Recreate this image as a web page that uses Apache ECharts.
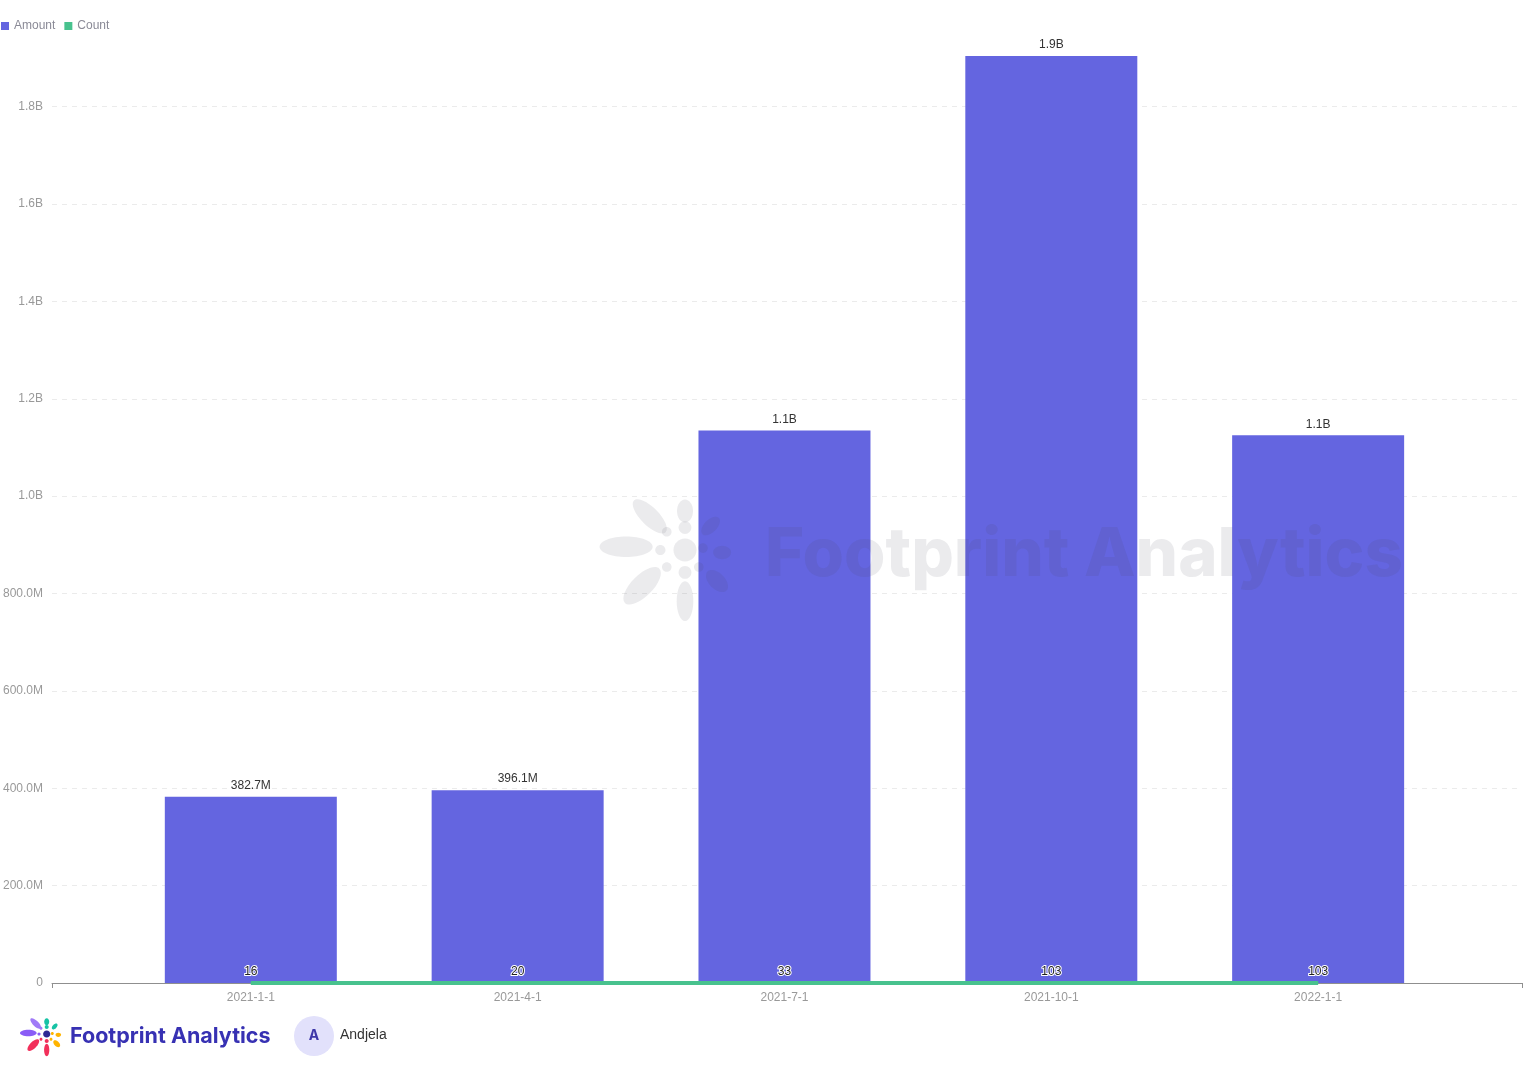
<!DOCTYPE html>
<html><head><meta charset="utf-8">
<script src="https://cdn.jsdelivr.net/npm/echarts@6/dist/echarts.min.js"></script>
<style>html,body{margin:0;padding:0;background:#fff}#c{width:1536px;height:1080px}</style>
</head><body><div id="c"></div>
<script>
const categories = ['2021-1-1', '2021-4-1', '2021-7-1', '2021-10-1', '2022-1-1'];
const amountValues = [382.7e6, 396.1e6, 1.135e9, 1.904e9, 1.125e9];
const countValues = [16, 20, 33, 103, 103];
const yTickValues = [0, 2e8, 4e8, 6e8, 8e8, 1e9, 1.2e9, 1.4e9, 1.6e9, 1.8e9];
const xLabelValues = [0, 1, 2, 3, 4];
const xMin = -0.745, xMax = 4.764;

function fmt(v) {
  if (v === 0) return '0';
  if (Math.abs(v) >= 1e9) return (v / 1e9).toFixed(1) + 'B';
  if (Math.abs(v) >= 1e6) return (v / 1e6).toFixed(1) + 'M';
  return String(v);
}

// flower icon pieces relative to center (unit scale)
const petals = [
  {x: -18.4, y: -1, rx: 8.3, ry: 3.2, r: 0, c: '#8a5cf6'},
  {x: -11, y: -10.5, rx: 7, ry: 2.8, r: -Math.PI / 4, c: '#a07af7'},
  {x: -7.7, y: 0, rx: 1.6, ry: 1.6, r: 0, c: '#8a5cf6'},
  {x: -5.7, y: -5.7, rx: 1.5, ry: 1.5, r: 0, c: '#a07af7'},
  {x: 0, y: -12.2, rx: 2.5, ry: 3.6, r: 0, c: '#17c3a5'},
  {x: 0, y: -7, rx: 2, ry: 2, r: 0, c: '#17c3a5'},
  {x: 8, y: -7.5, rx: 3.6, ry: 2, r: Math.PI / 4, c: '#17c3a5'},
  {x: 5.6, y: -0.6, rx: 1.5, ry: 1.5, r: 0, c: '#ffb400'},
  {x: 11.6, y: 0.8, rx: 2.8, ry: 2.1, r: 0, c: '#ffb400'},
  {x: 4.3, y: 5.3, rx: 1.5, ry: 1.5, r: 0, c: '#ffb400'},
  {x: 10, y: 9.7, rx: 4.2, ry: 2.5, r: -Math.PI / 4, c: '#ffb400'},
  {x: 0, y: 7, rx: 2, ry: 2, r: 0, c: '#f2305b'},
  {x: 0, y: 16, rx: 2.6, ry: 6.2, r: 0, c: '#f2305b'},
  {x: -5.7, y: 5.3, rx: 1.5, ry: 1.5, r: 0, c: '#f2305b'},
  {x: -13.4, y: 11.2, rx: 7.6, ry: 3.3, r: Math.PI / 4, c: '#f2305b'},
  {x: 0, y: 0, rx: 3.6, ry: 3.6, r: 0, c: '#2e2a93'}
];
function flower(cx, cy, s, colorOverride, z) {
  return petals.map(p => ({
    type: 'ellipse', x: cx + p.x * s, y: cy + p.y * s, rotation: p.r, z: z,
    shape: {cx: 0, cy: 0, rx: p.rx * s, ry: p.ry * s},
    style: {fill: colorOverride || p.c}, silent: true
  }));
}

const chart = echarts.init(document.getElementById('c'), null, {renderer: 'canvas'});
const baseFont = 'Liberation Sans, Arial, Helvetica, sans-serif';

chart.setOption({
  animation: false,
  textStyle: {fontFamily: baseFont},
  legend: {
    left: 1, top: 20, padding: 0, itemWidth: 8, itemHeight: 8, itemGap: 9, icon: 'rect',
    textStyle: {fontSize: 12, color: '#8a8a96', fontFamily: baseFont},
    data: ['Amount', 'Count']
  },
  grid: {left: 51, right: 14, top: 56, bottom: 97, containLabel: false},
  xAxis: {
    type: 'value', min: xMin, max: xMax,
    splitLine: {show: false},
    axisLine: {show: true, lineStyle: {color: '#8f8f8f', width: 1}},
    axisTick: {show: true, length: 5, customValues: [xMin, xMax], lineStyle: {color: '#8f8f8f'}},
    axisLabel: {
      customValues: xLabelValues, margin: 9, fontSize: 12, color: '#999',
      formatter: v => categories[Math.round(v)] || ''
    }
  },
  yAxis: {
    type: 'value', min: 0, max: 'dataMax',
    axisLine: {show: false},
    axisTick: {show: false, customValues: yTickValues},
    axisLabel: {customValues: yTickValues, margin: 9, fontSize: 12, color: '#999', formatter: fmt,
      padding: [2, 0, 0, 0]},
    splitLine: {show: true, lineStyle: {color: '#ebebeb', type: [5, 5], width: 1}}
  },
  series: [
    {
      name: 'Amount', type: 'bar', barWidth: 172,
      data: amountValues.map((v, i) => [i, v]),
      itemStyle: {color: '#6465e0'},
      label: {show: true, position: 'top', distance: 5, fontSize: 12, color: '#333',
        formatter: p => fmt(p.value[1])}
    },
    {
      name: 'Count', type: 'line', showSymbol: true, symbol: 'circle', symbolSize: 1,
      data: countValues.map((v, i) => [i, v]),
      itemStyle: {color: '#48c28e'},
      lineStyle: {color: '#48c28e', width: 4},
      label: {show: true, position: 'top', distance: 5, fontSize: 12, color: '#222',
        textBorderColor: '#fff', textBorderWidth: 2,
        formatter: p => String(p.value[1])},
      labelLayout: {hideOverlap: false},
      z: 5
    }
  ],
  graphic: [].concat(
    flower(685, 550, 3.2, 'rgba(70,75,95,0.11)', 100),
    [{
      type: 'text', x: 765, y: 556, z: 100, silent: true,
      style: {text: 'Footprint Analytics', font: '800 67px Inter, "Open Sans", sans-serif',
        fill: 'rgba(70,75,95,0.11)', verticalAlign: 'middle'}
    }],
    flower(46.7, 1034, 1, null, 10),
    [
      {type: 'text', x: 70, y: 1037, z: 10, silent: true,
        style: {text: 'Footprint Analytics', font: '700 21.5px Inter, "Open Sans", sans-serif',
          fill: '#3731b3', verticalAlign: 'middle'}},
      {type: 'circle', z: 10, silent: true, shape: {cx: 314, cy: 1036, r: 20}, style: {fill: '#e2e1fb'}},
      {type: 'text', x: 314, y: 1036, z: 11, silent: true,
        style: {text: 'A', font: '700 14px Inter, sans-serif', fill: '#3d37a8', align: 'center', verticalAlign: 'middle'}},
      {type: 'text', x: 340, y: 1035, z: 10, silent: true,
        style: {text: 'Andjela', font: '14px "Liberation Sans", Arial, sans-serif', fill: '#333', verticalAlign: 'middle'}}
    ]
  )
});
</script>
</body></html>
